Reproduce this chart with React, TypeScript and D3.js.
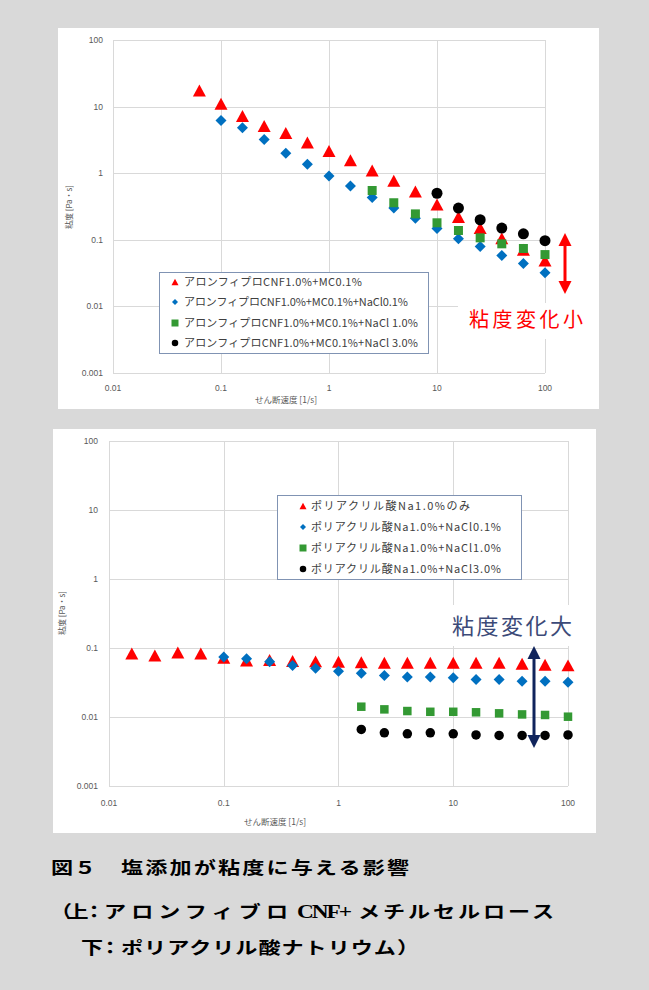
import React, { useEffect, useRef } from 'react';
import * as d3 from 'd3';

// upper chart: shear rate [1/s] and viscosity [Pa・s]
const topRates = [0.0631, 0.1, 0.158, 0.251, 0.398, 0.631, 1, 1.58, 2.51, 3.98, 6.31, 10, 15.8, 25.1, 39.8, 63.1, 100];
const cnfMC = [17.5, 11, 7.2, 5.1, 4.0, 2.9, 2.15, 1.56, 1.1, 0.77, 0.53, 0.34, 0.22, 0.15, 0.105, 0.071, 0.049];
const cnfNaCl01 = [6.2, 4.8, 3.2, 2.0, 1.36, 0.91, 0.64, 0.43, 0.3, 0.21, 0.148, 0.104, 0.079, 0.058, 0.044, 0.032];
const cnfNaCl10 = [0.55, 0.36, 0.245, 0.18, 0.138, 0.107, 0.087, 0.074, 0.06];
const cnfNaCl30 = [0.5, 0.3, 0.2, 0.15, 0.123, 0.097];
const topNames = [
  'アロンフィプロCNF1.0%+MC0.1%',
  'アロンフィプロCNF1.0%+MC0.1%+NaCl0.1%',
  'アロンフィプロCNF1.0%+MC0.1%+NaCl 1.0%',
  'アロンフィプロCNF1.0%+MC0.1%+NaCl 3.0%',
];

// lower chart
const bottomRates = [0.0158, 0.0251, 0.0398, 0.0631, 0.1, 0.158, 0.251, 0.398, 0.631, 1, 1.58, 2.51, 3.98, 6.31, 10, 15.8, 25.1, 39.8, 63.1, 100];
const paaOnly = [0.083, 0.078, 0.086, 0.083, 0.072, 0.066, 0.067, 0.065, 0.064, 0.063, 0.062, 0.061, 0.061, 0.061, 0.061, 0.061, 0.061, 0.059, 0.057, 0.056];
const paaNaCl01 = [0.074, 0.07, 0.063, 0.056, 0.051, 0.046, 0.043, 0.04, 0.038, 0.038, 0.037, 0.035, 0.035, 0.033, 0.033, 0.032];
const paaNaCl10 = [0.0141, 0.0129, 0.0122, 0.0119, 0.0119, 0.0117, 0.0113, 0.0109, 0.0107, 0.0101];
const paaNaCl30 = [0.0066, 0.0059, 0.0057, 0.0059, 0.0057, 0.0055, 0.0054, 0.0054, 0.0054, 0.0055];
const bottomNames = [
  'ポリアクリル酸Na1.0%のみ',
  'ポリアクリル酸Na1.0%+NaCl0.1%',
  'ポリアクリル酸Na1.0%+NaCl1.0%',
  'ポリアクリル酸Na1.0%+NaCl3.0%',
];

const xTicks = [0.01, 0.1, 1, 10, 100];
const xTickLabels = ['0.01', '0.1', '1', '10', '100'];
const yTicks = [0.001, 0.01, 0.1, 1, 10, 100];
const yTickLabels = ['0.001', '0.01', '0.1', '1', '10', '100'];

const kinds = ['triangle', 'diamond', 'square', 'circle'];
const colors = ['#ff0000', '#0070c0', '#339933', '#000000'];

const tickFont = '"Liberation Sans", Arial, sans-serif';
const jpFont = '"Noto Sans CJK JP", "Noto Sans", sans-serif';

function markerPath(kind: string, s: number) {
  if (kind === 'triangle') return `M0,${-s * 0.46}L${s / 2},${s * 0.46}L${-s / 2},${s * 0.46}Z`;
  if (kind === 'diamond') return `M0,${-s / 2}L${s / 2},0L0,${s / 2}L${-s / 2},0Z`;
  if (kind === 'square') return `M${-s / 2},${-s / 2}h${s}v${s}h${-s}Z`;
  return d3.symbol(d3.symbolCircle, Math.PI * (s / 2) * (s / 2))() as string;
}

function drawChart(root: any, opt: any) {
  const g = root.append('g');
  const p = opt.plot;

  g.append('rect')
    .attr('x', opt.panel[0]).attr('y', opt.panel[1])
    .attr('width', opt.panel[2]).attr('height', opt.panel[3])
    .attr('fill', '#ffffff');

  const x = d3.scaleLog().domain([0.01, 100]).range([p.left, p.right]);
  const y = d3.scaleLog().domain([0.001, 100]).range([p.bottom, p.top]);

  // grid
  g.selectAll('.gx').data(xTicks).enter().append('line')
    .attr('x1', (d: number) => Math.round(x(d)) + 0.5).attr('x2', (d: number) => Math.round(x(d)) + 0.5)
    .attr('y1', p.top).attr('y2', p.bottom)
    .attr('stroke', '#d9d9d9').attr('stroke-width', 1);
  g.selectAll('.gy').data(yTicks).enter().append('line')
    .attr('y1', (d: number) => Math.round(y(d)) + 0.5).attr('y2', (d: number) => Math.round(y(d)) + 0.5)
    .attr('x1', p.left).attr('x2', p.right)
    .attr('stroke', '#d9d9d9').attr('stroke-width', 1);

  // tick labels
  g.selectAll('.tx').data(xTicks).enter().append('text')
    .attr('x', (d: number) => x(d)).attr('y', opt.xTickY)
    .attr('text-anchor', 'middle')
    .style('font', `8.5px ${tickFont}`).attr('fill', '#595959')
    .text((d: number, i: number) => xTickLabels[i]);
  g.selectAll('.ty').data(yTicks).enter().append('text')
    .attr('x', opt.yTickX).attr('y', (d: number) => y(d) + 3)
    .attr('text-anchor', 'end')
    .style('font', `8.5px ${tickFont}`).attr('fill', '#595959')
    .text((d: number, i: number) => yTickLabels[i]);

  // axis titles
  g.append('text')
    .attr('x', opt.xTitle[0]).attr('y', opt.xTitle[1])
    .attr('text-anchor', 'middle')
    .style('font', `8.5px ${jpFont}`).attr('fill', '#595959')
    .text('せん断速度 [1/s]');
  g.append('text')
    .attr('transform', `translate(${opt.yTitle[0]},${opt.yTitle[1]}) rotate(-90)`)
    .attr('text-anchor', 'middle')
    .style('font', `8px ${jpFont}`).attr('fill', '#595959')
    .text('粘度 [Pa・s]');

  // annotation box (covers grid)
  const a = opt.note;
  g.append('rect')
    .attr('x', a.box[0]).attr('y', a.box[1]).attr('width', a.box[2]).attr('height', a.box[3])
    .attr('fill', '#ffffff');

  // markers
  opt.series.forEach((vals: number[], si: number) => {
    const xs = opt.rates.slice(opt.rates.length - vals.length);
    g.selectAll(`.m${si}`).data(vals).enter().append('path')
      .attr('transform', (d: number, i: number) => `translate(${x(xs[i])},${y(d)})`)
      .attr('d', markerPath(kinds[si], opt.sizes[si]))
      .attr('fill', colors[si]);
  });

  g.append('text')
    .attr('x', a.text[0]).attr('y', a.text[1])
    .attr('textLength', a.text[2]).attr('lengthAdjust', 'spacing')
    .style('font', `${a.fontSize}px ${jpFont}`).attr('fill', a.textColor)
    .text(a.label);

  // double arrow
  const ar = a.arrow;
  const hl = 13, hw = 6.5;
  g.append('line')
    .attr('x1', ar[0]).attr('x2', ar[0]).attr('y1', ar[1] + hl - 2).attr('y2', ar[2] - hl + 2)
    .attr('stroke', a.arrowColor).attr('stroke-width', 3);
  g.append('path')
    .attr('d', `M${ar[0]},${ar[1]}L${ar[0] + hw},${ar[1] + hl}L${ar[0] - hw},${ar[1] + hl}Z`)
    .attr('fill', a.arrowColor);
  g.append('path')
    .attr('d', `M${ar[0]},${ar[2]}L${ar[0] + hw},${ar[2] - hl}L${ar[0] - hw},${ar[2] - hl}Z`)
    .attr('fill', a.arrowColor);

  // legend
  const L = opt.legend;
  g.append('rect')
    .attr('x', L.box[0] + 0.5).attr('y', L.box[1] + 0.5).attr('width', L.box[2]).attr('height', L.box[3])
    .attr('fill', '#ffffff').attr('stroke', '#8093b3').attr('stroke-width', 1);
  opt.names.forEach((name: string, i: number) => {
    const ry = L.rowY[i];
    g.append('path')
      .attr('transform', `translate(${L.markerX},${ry})`)
      .attr('d', markerPath(kinds[i], L.markerSize[i]))
      .attr('fill', colors[i]);
    g.append('text')
      .attr('x', L.textX).attr('y', ry + 4)
      .attr('textLength', L.textLen[i]).attr('lengthAdjust', 'spacing')
      .style('font', `11px ${jpFont}`).attr('fill', '#404040')
      .text(name);
  });
}

function App() {
  const ref = useRef<SVGSVGElement>(null);

  useEffect(() => {
    const svg = d3.select(ref.current);
    svg.selectAll('*').remove();

    svg.append('rect').attr('width', 649).attr('height', 990).attr('fill', '#d9d9d9');

    drawChart(svg, {
      panel: [58, 28, 541, 381],
      plot: { left: 113, right: 545, top: 40, bottom: 373 },
      xTickY: 391, yTickX: 103,
      xTitle: [286, 403], yTitle: [72, 207],
      rates: topRates,
      series: [cnfMC, cnfNaCl01, cnfNaCl10, cnfNaCl30],
      sizes: [13, 11, 9, 11],
      names: topNames,
      legend: {
        box: [159, 272, 269, 81], markerX: 175, textX: 184,
        rowY: [282, 302, 323, 343], markerSize: [7, 6, 7, 6.5],
        textLen: [178, 224, 234, 234],
      },
      note: {
        box: [458, 303, 110, 36], text: [469, 327, 114], fontSize: 20,
        label: '粘度変化小', textColor: '#ff0000',
        arrow: [565, 233, 294], arrowColor: '#ff0000',
      },
    });

    drawChart(svg, {
      panel: [53, 429, 543, 404],
      plot: { left: 109, right: 568, top: 441, bottom: 786 },
      xTickY: 806, yTickX: 98,
      xTitle: [275, 825], yTitle: [65, 613],
      rates: bottomRates,
      series: [paaOnly, paaNaCl01, paaNaCl10, paaNaCl30],
      sizes: [13, 11, 8.5, 9.5],
      names: bottomNames,
      legend: {
        box: [277, 495, 244, 84], markerX: 303, textX: 311,
        rowY: [506, 527, 548, 569], markerSize: [7, 6, 7, 6.5],
        textLen: [159, 190, 190, 190],
      },
      note: {
        box: [447, 605, 128, 41], text: [452, 634, 120], fontSize: 22,
        label: '粘度変化大', textColor: '#3c4a78',
        arrow: [534, 646, 748], arrowColor: '#10245c',
      },
    });

    // caption: glyphs in the figure are stretched wide, so scale x
    const sx = 1.3;
    const cap = svg.append('g').attr('fill', '#000000')
      .style('font-family', jpFont).style('font-weight', 'bold').style('font-size', '17px');
    const parts: [string, number, number, number, string?][] = [
      ['図５', 51, 874, 45],
      ['塩添加が粘度に与える影響', 121, 874, 288],
      ['（上：', 50, 918, 55],
      ['アロンフィブロ', 104, 918, 184],
      ['CNF+', 297, 918, 55, '"Liberation Serif", serif'],
      ['メチルセルロース', 358, 918, 196],
      ['下：', 81, 954, 40],
      ['ポリアクリル酸ナトリウム）', 121, 954, 298],
    ];
    parts.forEach((pt) => {
      const t = cap.append('text')
        .attr('transform', `translate(${pt[1]},${pt[2]}) scale(${sx},1)`)
        .attr('textLength', pt[3] / sx).attr('lengthAdjust', 'spacing')
        .text(pt[0]);
      if (pt[4]) t.style('font-family', pt[4]).style('font-size', '18px');
    });
  }, []);

  return (
    <svg ref={ref} width={649} height={990}
      style={{ position: 'absolute', left: 0, top: 0, display: 'block' }} />
  );
}

export default App;
